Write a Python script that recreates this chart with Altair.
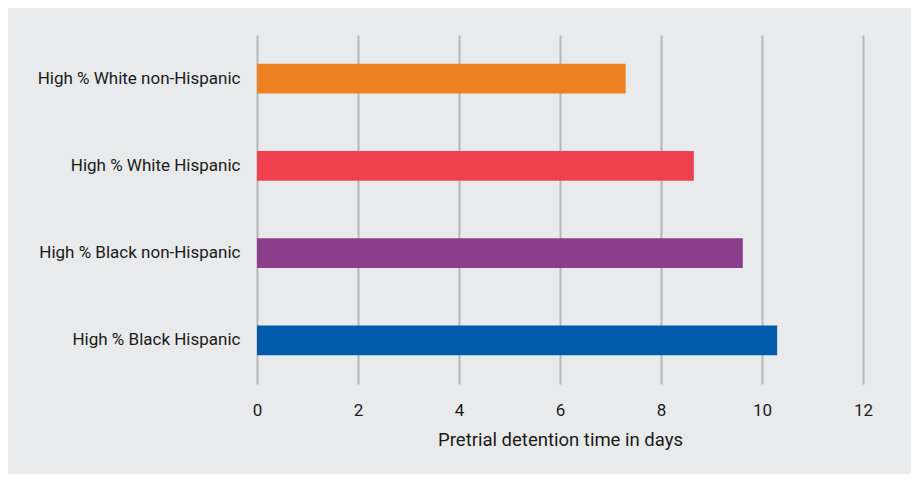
import altair as alt
import pandas as pd

categories = ["High % White non-Hispanic", "High % White Hispanic",
              "High % Black non-Hispanic", "High % Black Hispanic"]
days = [7.3, 8.65, 9.62, 10.3]
colors = ["#ee8223", "#ef4050", "#8a3e8b", "#005aab"]

df = pd.DataFrame({"group": categories, "days": days})

chart = alt.Chart(df).mark_bar().encode(
    x=alt.X("days:Q", title="Pretrial detention time in days",
            scale=alt.Scale(domain=[0, 12], nice=False),
            axis=alt.Axis(values=[0, 2, 4, 6, 8, 10, 12], grid=True, domain=False,
                          ticks=False, labelPadding=18, titlePadding=12,
                          labelFlush=False,
                          labelFontSize=17, titleFontSize=18.5,
                          gridColor="#b5b6b8", gridWidth=2)),
    y=alt.Y("group:N", title=None, sort=categories,
            scale=alt.Scale(paddingInner=0.66, paddingOuter=0.33),
            axis=alt.Axis(domain=False, ticks=False, grid=False, labelLimit=0,
                          labelPadding=17, labelFontSize=17)),
    color=alt.Color("group:N", scale=alt.Scale(domain=categories, range=colors), legend=None),
).properties(
    width=606, height=349,
    background="#e9eaeb",
    padding={"left": 249, "top": 27, "right": 48, "bottom": 90},
    autosize=alt.AutoSizeParams(type="none"),
).configure_view(stroke=None).configure_axis(
    labelFont="Roboto", titleFont="Roboto", labelColor="#1a1a1a",
    titleColor="#1a1a1a", titleFontWeight="normal"
).configure_axisX(gridOpacity=1)

chart.save("out.html", embed_options={"renderer": "svg", "actions": False})
